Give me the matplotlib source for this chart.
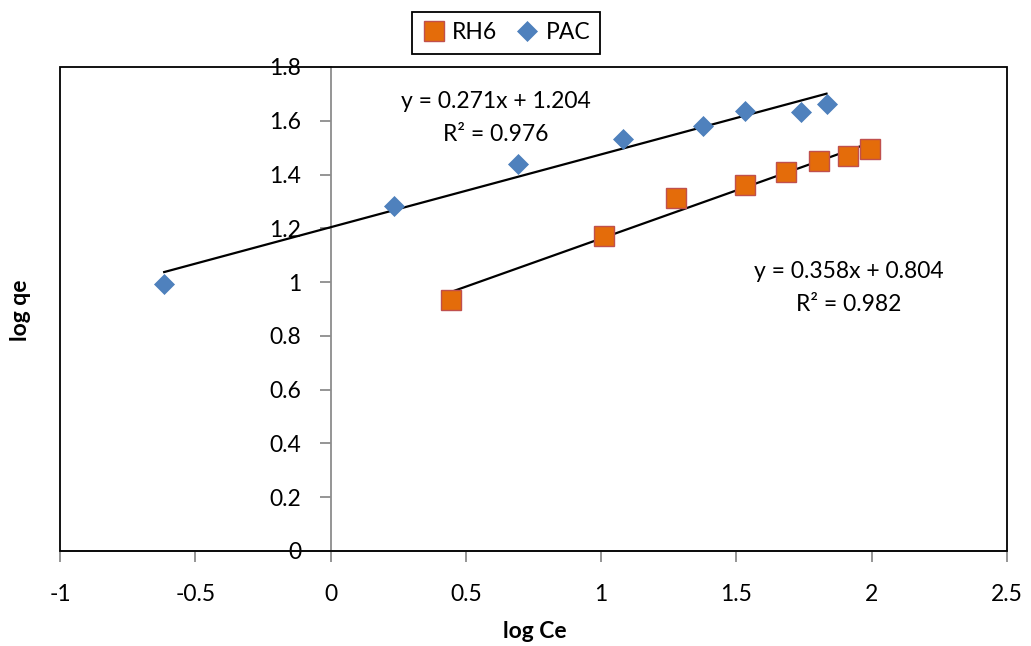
import numpy as np
import matplotlib.pyplot as plt
from matplotlib.patches import Rectangle

plt.rcParams['font.family'] = ['Lato', 'DejaVu Sans']

# data
pac_x = [-0.615, 0.233, 0.693, 1.081, 1.378, 1.530, 1.737, 1.833]
pac_y = [0.993, 1.283, 1.439, 1.532, 1.580, 1.636, 1.632, 1.662]
rh6_x = [0.444, 1.011, 1.278, 1.530, 1.685, 1.804, 1.911, 1.993]
rh6_y = [0.933, 1.171, 1.312, 1.361, 1.409, 1.450, 1.468, 1.494]

# trendline coefficients (slope, intercept, R^2)
pac_fit = (0.271, 1.204, 0.976)
rh6_fit = (0.358, 0.804, 0.982)

xticks = [-1, -0.5, 0, 0.5, 1, 1.5, 2, 2.5]
yticks = [0, 0.2, 0.4, 0.6, 0.8, 1, 1.2, 1.4, 1.6, 1.8]

fs = 16.5

fig = plt.figure(figsize=(10.31, 6.46), dpi=100)
ax = fig.add_axes([0.0582, 0.1471, 0.9185, 0.7492])

ax.set_xlim(-1, 2.5)
ax.set_ylim(0, 1.8)

# Excel-like axes crossing at zero
for s in ['top', 'right']:
    ax.spines[s].set_visible(False)
ax.spines['left'].set_position(('data', 0))
ax.spines['left'].set_color('#8c8c8c')
ax.spines['bottom'].set_color('#8c8c8c')
ax.spines['left'].set_linewidth(1.3)
ax.spines['bottom'].set_linewidth(1.3)
ax.add_patch(Rectangle((0, 0), 1, 1, transform=ax.transAxes, fill=False,
                       edgecolor='black', linewidth=1.3, zorder=5, clip_on=False))

ax.set_xticks(xticks)
ax.set_xticklabels([f'{t:g}' for t in xticks])
ax.set_yticks(yticks)
ax.set_yticklabels([f'{t:g}' for t in yticks])
ax.tick_params(axis='x', direction='out', length=8, width=1.3, color='#8c8c8c',
               pad=16, labelsize=fs)
ax.tick_params(axis='y', direction='out', length=8, width=1.3, color='#8c8c8c',
               pad=13, labelsize=fs)

# trendlines
for xs, fit in [(pac_x, pac_fit), (rh6_x, rh6_fit)]:
    lx = np.array([min(xs), max(xs)])
    ax.plot(lx, fit[0] * lx + fit[1], color='black', linewidth=1.6, zorder=3)

ax.plot(rh6_x, rh6_y, linestyle='none', marker='s', markersize=14,
        markerfacecolor='#E46C0A', markeredgecolor='#C0504D', markeredgewidth=1,
        label='RH6', zorder=4)
ax.plot(pac_x, pac_y, linestyle='none', marker='D', markersize=10,
        markerfacecolor='#4F81BD', markeredgecolor='#4A7EBB', markeredgewidth=0.5,
        label='PAC', zorder=4)

ax.text(0.611, 1.673, f'y = {pac_fit[0]:.3f}x + {pac_fit[1]:.3f}', ha='center',
        va='center', fontsize=fs)
ax.text(0.611, 1.550, f'R² = {pac_fit[2]:.3f}', ha='center', va='center', fontsize=fs)
ax.text(1.915, 1.041, f'y = {rh6_fit[0]:.3f}x + {rh6_fit[1]:.3f}', ha='center',
        va='center', fontsize=fs)
ax.text(1.915, 0.918, f'R² = {rh6_fit[2]:.3f}', ha='center', va='center', fontsize=fs)

fig.text(0.519, 0.022, 'log Ce', ha='center', va='center', fontsize=fs,
         fontweight='bold')
fig.text(0.02, 0.52, 'log qe', ha='center', va='center', rotation=90,
         fontsize=fs, fontweight='bold')

leg = fig.legend(loc='center', bbox_to_anchor=(0.491, 0.949), ncol=2,
                 fontsize=fs, frameon=True, fancybox=False, framealpha=1,
                 edgecolor='black', handlelength=1, handletextpad=0.3,
                 columnspacing=0.8, borderpad=0.45)
leg.get_frame().set_linewidth(1.3)

fig.savefig('out.png', dpi=100)
